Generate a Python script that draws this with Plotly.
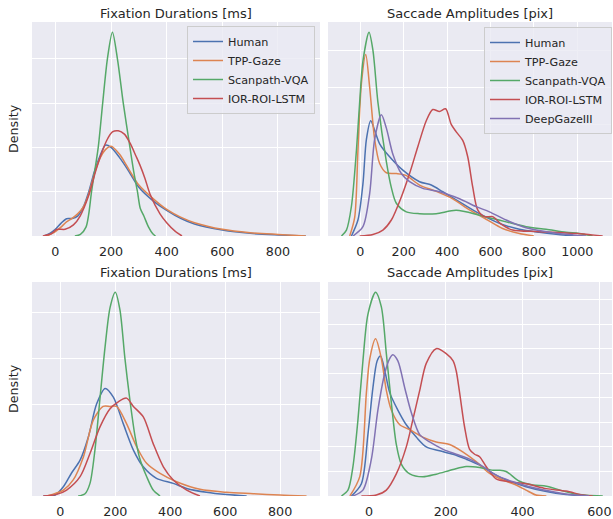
import plotly.graph_objects as go

# ---------------- data ----------------
SERIES_NAMES = ["Human", "TPP-Gaze", "Scanpath-VQA", "IOR-ROI-LSTM", "DeepGazeIII"]
COLORS = ["#4C72B0", "#DD8452", "#55A868", "#C44E52", "#8172B3"]

PANEL_TITLES = ["Fixation Durations [ms]", "Saccade Amplitudes [pix]",
                "Fixation Durations [ms]", "Saccade Amplitudes [pix]"]

# Top-left: fixation durations
TL_HUMAN_X = [-40, -20, 0, 20, 40, 60, 80, 100, 120, 140, 160, 180, 200, 230, 260, 300, 350, 400, 450, 500, 600, 700, 800, 900]
TL_HUMAN_Y = [0, 0.00012, 0.0003, 0.00057, 0.00078, 0.00079, 0.0009, 0.0013, 0.002, 0.0029, 0.0036, 0.0041, 0.004, 0.00355, 0.003, 0.0022, 0.0016, 0.00116, 0.0008, 0.00054, 0.00027, 0.00012, 0.00005, 0]
TL_TPP_X = [-30, 0, 20, 40, 60, 80, 100, 120, 140, 160, 180, 200, 230, 260, 300, 350, 400, 450, 500, 600, 700, 800, 900]
TL_TPP_Y = [0, 0.0002, 0.0004, 0.00064, 0.0008, 0.001, 0.0013, 0.0019, 0.0028, 0.0035, 0.0039, 0.00405, 0.0037, 0.0031, 0.0023, 0.0017, 0.0012, 0.00085, 0.0006, 0.0003, 0.00015, 0.00007, 0]
TL_VQA_X = [70, 90, 110, 120, 130, 154, 170, 187, 205, 223, 244, 268, 283, 295, 305, 318, 335, 350, 360]
TL_VQA_Y = [0, 0.00007, 0.0004, 0.001, 0.002, 0.004, 0.006, 0.008, 0.0092, 0.008, 0.006, 0.004, 0.0028, 0.002, 0.00125, 0.0009, 0.0004, 0.0001, 0]
TL_IOR_X = [-45, -15, 5, 35, 65, 89, 119, 149, 184, 205, 226, 248, 268, 290, 304, 322, 340, 376, 400, 430, 455]
TL_IOR_Y = [0, 0.0001, 0.0003, 0.0003, 0.0005, 0.0009, 0.0018, 0.0031, 0.0043, 0.0047, 0.00475, 0.0046, 0.0042, 0.0036, 0.0032, 0.0026, 0.0019, 0.001, 0.0006, 0.00022, 0]

# Top-right: saccade amplitudes
TR_HUMAN_X = [-41, -11, 12, 28, 48, 66, 89, 135, 196, 273, 327, 380, 457, 549, 641, 733, 825, 948, 1009]
TR_HUMAN_Y = [0, 0.00043, 0.0014, 0.0026, 0.0031, 0.00284, 0.00248, 0.00213, 0.00177, 0.00146, 0.00137, 0.00119, 0.00092, 0.0006, 0.00034, 0.00018, 0.0001, 0.00002, 0]
TR_TPP_X = [-49, -26, -11, 5, 25, 43, 66, 89, 120, 166, 210, 273, 350, 426, 503, 580, 656, 733, 800]
TR_TPP_Y = [0, 0.0005, 0.0023, 0.0041, 0.00488, 0.004, 0.0026, 0.00195, 0.0017, 0.00168, 0.00163, 0.00137, 0.0012, 0.001, 0.0007, 0.00045, 0.0002, 0.00007, 0]
TR_VQA_X = [-87, -64, -41, -18, -3, 12, 40, 58, 81, 120, 143, 166, 212, 273, 350, 442, 549, 610, 672, 764, 856, 948, 1009, 1071]
TR_VQA_Y = [0, 0.00016, 0.0008, 0.0023, 0.0036, 0.0047, 0.00548, 0.005, 0.0036, 0.002, 0.0013, 0.00088, 0.00065, 0.0006, 0.0006, 0.00069, 0.00056, 0.00047, 0.00038, 0.00025, 0.00018, 0.0001, 0.00007, 0]
TR_IOR_X = [-3, 58, 104, 143, 189, 227, 265, 304, 334, 365, 393, 419, 442, 472, 495, 518, 541, 572, 610, 649, 702, 810, 887, 979, 1040, 1117]
TR_IOR_Y = [0, 0.00004, 0.00016, 0.00043, 0.00105, 0.00168, 0.0024, 0.0031, 0.0034, 0.00335, 0.00342, 0.003, 0.0028, 0.00257, 0.00213, 0.00132, 0.0007, 0.00052, 0.00052, 0.00032, 0.00016, 0.00012, 0.0001, 0.00007, 0.00005, 0]
TR_DG3_X = [-34, 12, 43, 66, 97, 120, 150, 189, 227, 288, 365, 457, 534, 595, 672, 764, 887, 979, 1040]
TR_DG3_Y = [0, 0.00025, 0.00114, 0.0026, 0.00326, 0.0029, 0.0022, 0.00168, 0.00146, 0.00128, 0.00119, 0.001, 0.00079, 0.00065, 0.00043, 0.00022, 0.00009, 0.00003, 0]

# Bottom-left: fixation durations
BL_HUMAN_X = [-62, -19, 11, 41, 72, 102, 132, 163, 193, 229, 266, 302, 350, 411, 460, 532, 605, 678]
BL_HUMAN_Y = [0, 0.00004, 0.0004, 0.001, 0.00156, 0.00257, 0.004, 0.00468, 0.0043, 0.00315, 0.002, 0.00127, 0.00077, 0.00055, 0.00033, 0.00016, 0.00006, 0]
BL_TPP_X = [-50, 11, 47, 84, 120, 156, 181, 205, 241, 278, 314, 363, 423, 508, 605, 702, 799, 896]
BL_TPP_Y = [0, 0.00026, 0.0007, 0.0017, 0.0033, 0.0039, 0.0039, 0.0039, 0.00315, 0.00214, 0.00142, 0.00098, 0.00062, 0.00029, 0.00016, 0.0001, 0.00004, 0]
BL_VQA_X = [65, 90, 108, 126, 144, 163, 181, 200, 217, 235, 253, 272, 290, 314, 338, 363]
BL_VQA_Y = [0, 0.0001, 0.00055, 0.002, 0.0042, 0.0065, 0.0082, 0.00887, 0.0081, 0.006, 0.0042, 0.0026, 0.0016, 0.00085, 0.00026, 0]
BL_IOR_X = [-62, -13, 23, 72, 108, 144, 181, 211, 241, 266, 302, 338, 375, 411, 460, 508]
BL_IOR_Y = [0, 0.00007, 0.00026, 0.00084, 0.00185, 0.003, 0.0038, 0.0041, 0.00426, 0.0039, 0.00344, 0.00228, 0.00127, 0.0007, 0.00026, 0]

# Bottom-right: saccade amplitudes
BR_HUMAN_X = [-46, -20, -3, 10, 21, 30, 41, 54, 75, 97, 123, 149, 184, 219, 253, 288, 323, 357, 409, 462, 513, 566]
BR_HUMAN_Y = [0, 0.0005, 0.0025, 0.0044, 0.0055, 0.0057, 0.0051, 0.0042, 0.0035, 0.0029, 0.0024, 0.002, 0.00184, 0.0017, 0.0015, 0.00126, 0.00092, 0.00065, 0.00038, 0.00018, 0.00006, 0]
BR_TPP_X = [-50, -24, -7, 2, 17, 32, 45, 58, 80, 106, 140, 175, 210, 244, 279, 314, 349, 383, 409, 435, 462]
BR_TPP_Y = [0, 0.0008, 0.0042, 0.0056, 0.0064, 0.0056, 0.0043, 0.0035, 0.0029, 0.0027, 0.0024, 0.0022, 0.0021, 0.0018, 0.0014, 0.00092, 0.00065, 0.00045, 0.00024, 0.00004, 0]
BR_VQA_X = [-72, -55, -42, -29, -16, -3, 17, 32, 45, 58, 71, 84, 106, 140, 175, 219, 253, 288, 323, 340, 357, 392, 427, 462, 496, 531, 566, 609]
BR_VQA_Y = [0, 0.00024, 0.0012, 0.0031, 0.0055, 0.0074, 0.0083, 0.0077, 0.0058, 0.0038, 0.0021, 0.0013, 0.0009, 0.00078, 0.00089, 0.00108, 0.0012, 0.00116, 0.00105, 0.00105, 0.001, 0.0006, 0.00045, 0.0004, 0.00025, 0.0001, 0.00003, 0]
BR_IOR_X = [-20, 19, 45, 71, 97, 114, 132, 149, 175, 201, 219, 227, 236, 249, 262, 275, 288, 305, 331, 366, 409, 462, 513, 557, 583]
BR_IOR_Y = [0, 0.00004, 0.00024, 0.0009, 0.002, 0.0031, 0.0043, 0.0054, 0.006, 0.0058, 0.0055, 0.0051, 0.0042, 0.0028, 0.0019, 0.0017, 0.0016, 0.0012, 0.0007, 0.00058, 0.0005, 0.0003, 0.0002, 0.00004, 0]
BR_DG3_X = [-42, -16, 6, 23, 41, 54, 62, 75, 93, 110, 132, 158, 193, 227, 262, 297, 331, 375, 418, 470, 522, 574]
BR_DG3_Y = [0, 0.00024, 0.0015, 0.0035, 0.005, 0.0056, 0.00575, 0.0055, 0.0044, 0.0034, 0.0025, 0.0022, 0.0019, 0.0017, 0.0015, 0.0012, 0.00085, 0.00058, 0.00038, 0.0002, 0.00006, 0]

# ---------------- figure ----------------
W, H = 613, 519
TEXT = "#262626"
FONT = "DejaVu Sans"

panels = [
    ("x", "y", [(TL_HUMAN_X, TL_HUMAN_Y, 0), (TL_TPP_X, TL_TPP_Y, 1), (TL_VQA_X, TL_VQA_Y, 2), (TL_IOR_X, TL_IOR_Y, 3)], "legend"),
    ("x2", "y2", [(TR_HUMAN_X, TR_HUMAN_Y, 0), (TR_TPP_X, TR_TPP_Y, 1), (TR_VQA_X, TR_VQA_Y, 2), (TR_IOR_X, TR_IOR_Y, 3), (TR_DG3_X, TR_DG3_Y, 4)], "legend2"),
    ("x3", "y3", [(BL_HUMAN_X, BL_HUMAN_Y, 0), (BL_TPP_X, BL_TPP_Y, 1), (BL_VQA_X, BL_VQA_Y, 2), (BL_IOR_X, BL_IOR_Y, 3)], None),
    ("x4", "y4", [(BR_HUMAN_X, BR_HUMAN_Y, 0), (BR_TPP_X, BR_TPP_Y, 1), (BR_VQA_X, BR_VQA_Y, 2), (BR_IOR_X, BR_IOR_Y, 3), (BR_DG3_X, BR_DG3_Y, 4)], None),
]

fig = go.Figure()
for xa, ya, series, leg in panels:
    for xs, ys, idx in series:
        fig.add_trace(go.Scatter(
            x=xs, y=ys, mode="lines", name=SERIES_NAMES[idx],
            line=dict(color=COLORS[idx], width=1.5, shape="spline", smoothing=0.8),
            xaxis=xa, yaxis=ya,
            showlegend=leg is not None,
            legend=leg if leg else "legend",
            hoverinfo="skip",
        ))

px_x = [(32, 320), (328, 612), (32, 320), (328, 612)]
px_y = [(22, 236), (22, 236), (282, 496), (282, 496)]
x_ranges = [[-84, 951], [-149, 1160], [-103, 945], [-107, 633]]
x_dticks = [200, 200, 200, 200]
y_peaks = [max(TL_VQA_Y), max(TR_VQA_Y), max(BL_VQA_Y), max(BR_VQA_Y)]
y_dticks = [0.002, 0.001, 0.002, 0.001]

layout = dict(
    width=W, height=H,
    margin=dict(l=0, r=0, t=0, b=0),
    paper_bgcolor="white",
    plot_bgcolor="#EAEAF2",
    font=dict(family=FONT, size=12.7, color=TEXT),
)
for i in range(4):
    sfx = "" if i == 0 else str(i + 1)
    x0, x1 = px_x[i]
    y0, y1 = px_y[i]
    layout["xaxis" + sfx] = dict(
        domain=[x0 / W, x1 / W], range=x_ranges[i], dtick=x_dticks[i], tick0=0,
        showgrid=True, gridcolor="white", gridwidth=1, zeroline=False,
        showline=False, ticks="outside", ticklen=4, tickcolor="rgba(0,0,0,0)",
        tickfont=dict(size=12.7, color=TEXT), anchor="y" + sfx,
    )
    layout["yaxis" + sfx] = dict(
        domain=[1 - y1 / H, 1 - y0 / H], range=[0, y_peaks[i] * 1.05],
        dtick=y_dticks[i], tick0=0,
        showgrid=True, gridcolor="white", gridwidth=1, zeroline=False,
        showline=False, showticklabels=False, ticks="", anchor="x" + sfx,
    )

legend_common = dict(
    bgcolor="rgba(234,234,242,0.8)", bordercolor="#CCCCCC", borderwidth=1,
    font=dict(family=FONT, size=11.2, color=TEXT), xanchor="right", yanchor="top",
    tracegroupgap=0, itemwidth=30,
)
layout["legend"] = dict(x=315 / W, y=1 - 26 / H, **legend_common)
layout["legend2"] = dict(x=612 / W, y=1 - 27 / H, **legend_common)

annotations = []
for i in range(4):
    x0, x1 = px_x[i]
    ytitle = 13 if i < 2 else 272
    annotations.append(dict(
        text=PANEL_TITLES[i], x=(x0 + x1) / 2 / W, y=1 - ytitle / H,
        xref="paper", yref="paper", xanchor="center", yanchor="middle",
        showarrow=False, font=dict(family=FONT, size=13, color=TEXT),
    ))
for yc in (129, 389):
    annotations.append(dict(
        text="Density", x=13 / W, y=1 - yc / H, xref="paper", yref="paper",
        xanchor="center", yanchor="middle", textangle=-90, showarrow=False,
        font=dict(family=FONT, size=12.7, color=TEXT),
    ))
layout["annotations"] = annotations

fig.update_layout(**layout)
fig.write_html("out.html", config={"displayModeBar": False},
               post_script="document.body.style.margin='0';document.body.style.overflow='hidden';")
